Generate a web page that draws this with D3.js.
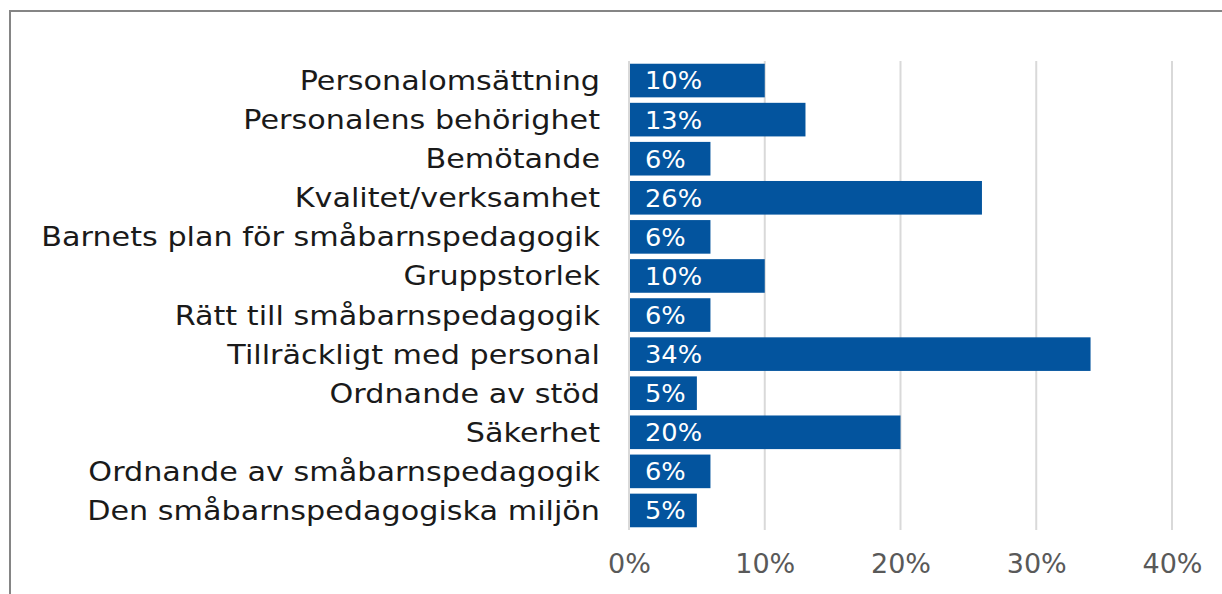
<!DOCTYPE html>
<html>
<head>
<meta charset="utf-8">
<script src="https://cdn.jsdelivr.net/npm/d3@7"></script>
<style>
  html, body { margin: 0; padding: 0; background: #fff; }
  svg { display: block; }
</style>
</head>
<body>
<svg id="chart" width="1222" height="594"></svg>
<script>
const categories = [
  "Personalomsättning",
  "Personalens behörighet",
  "Bemötande",
  "Kvalitet/verksamhet",
  "Barnets plan för småbarnspedagogik",
  "Gruppstorlek",
  "Rätt till småbarnspedagogik",
  "Tillräckligt med personal",
  "Ordnande av stöd",
  "Säkerhet",
  "Ordnande av småbarnspedagogik",
  "Den småbarnspedagogiska miljön"
];
const values = [10, 13, 6, 26, 6, 10, 6, 34, 5, 20, 6, 5];
const tickValues = [0, 10, 20, 30, 40];

const svg = d3.select("#chart");
const font = "'DejaVu Sans', Verdana, sans-serif";

// outer frame (extends past the visible area, as in the reference)
svg.append("rect")
  .attr("x", 10).attr("y", 11)
  .attr("width", 1240).attr("height", 640)
  .attr("fill", "#fff")
  .attr("stroke", "#858585").attr("stroke-width", 2);

const x = d3.scaleLinear().domain([0, 40]).range([629, 1172]);
const y = d3.scaleBand().domain(categories).range([61, 530]).paddingInner(0.14).paddingOuter(0.07);

// gridlines
svg.append("g").selectAll("line").data(tickValues).join("line")
  .attr("x1", d => x(d)).attr("x2", d => x(d))
  .attr("y1", 61).attr("y2", 530)
  .attr("stroke", "#d9d9d9").attr("stroke-width", 2);

// bars
svg.append("g").selectAll("rect").data(values).join("rect")
  .attr("x", x(0) + 1)
  .attr("y", (d, i) => y(categories[i]))
  .attr("width", d => x(d) - x(0) - 1)
  .attr("height", y.bandwidth())
  .attr("fill", "#03549e");

// value labels
svg.append("g").selectAll("text").data(values).join("text")
  .attr("transform", (d, i) => `translate(${x(0) + 16},${y(categories[i]) + y.bandwidth() / 2}) scale(1.07,1)`)
  .attr("dy", "0.37em")
  .attr("font-family", font)
  .attr("font-size", 24)
  .attr("fill", "#ffffff")
  .text(d => d + "%");

// category labels
svg.append("g").selectAll("text").data(categories).join("text")
  .attr("transform", d => `translate(600,${y(d) + y.bandwidth() / 2}) scale(1.12,1)`)
  .attr("dy", "0.35em")
  .attr("text-anchor", "end")
  .attr("font-family", font)
  .attr("font-size", 27)
  .attr("fill", "#1a1a1a")
  .text(d => d);

// x axis tick labels
const xAxis = d3.axisBottom(x).tickValues(tickValues).tickFormat(d => d + "%").tickSize(0).tickPadding(0);
const gx = svg.append("g").attr("transform", "translate(0,563)").call(xAxis);
gx.select(".domain").remove();
gx.selectAll("text")
  .attr("font-family", font)
  .attr("font-size", 27)
  .attr("fill", "#595959")
  .attr("dy", "0.36em");
</script>
</body>
</html>
